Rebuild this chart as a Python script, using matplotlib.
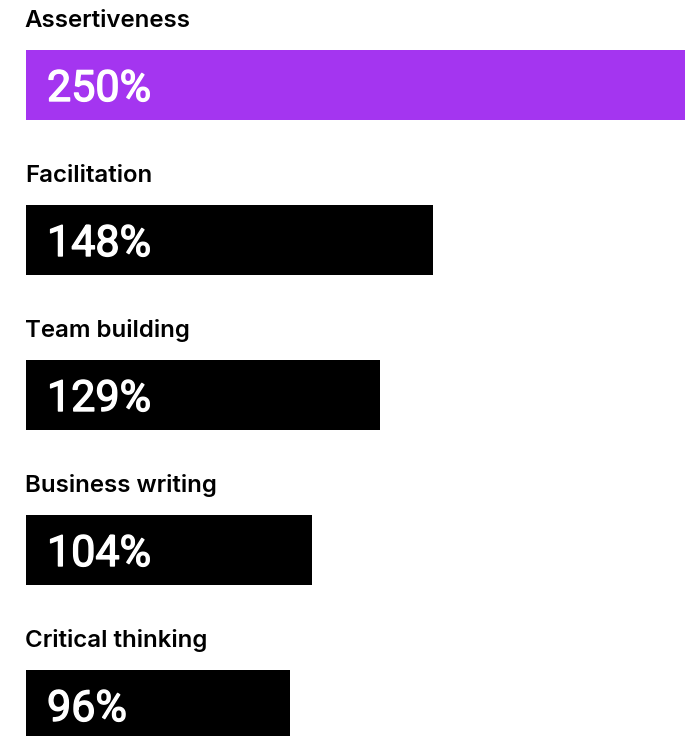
import matplotlib.pyplot as plt
import matplotlib.patheffects as pe

skills = ['Assertiveness', 'Facilitation', 'Team building', 'Business writing', 'Critical thinking']
growth = [250, 148, 129, 104, 96]
highlight = 'Assertiveness'

purple = '#a435f0'

fig = plt.figure(figsize=(6.85, 7.36), dpi=100)
# axes spans past the right edge so the top bar gets clipped like the original
ax = fig.add_axes([26 / 685, 0, 687 / 685, 1])
ax.set_xlim(0, 250)
ax.set_ylim(736 / 155 - 85 / 155, -85 / 155)
ax.axis('off')

colors = [purple if s == highlight else 'black' for s in skills]
ys = list(range(len(skills)))
ax.barh(ys, growth, height=70 / 155, color=colors, align='center')

# regular weight + a thin stroke to get something close to a medium weight
medium = [pe.withStroke(linewidth=1.0, foreground='white')]

for y, s, v in zip(ys, skills, growth):
    ax.text(-0.4, y - 58 / 155, s, fontsize=17.3, fontfamily='Inter', fontweight='semibold',
            color='black', ha='left', va='baseline')
    ax.annotate(f'{v}%', xy=(0, y), xytext=(21 * 0.72, -16 * 0.72), textcoords='offset points',
                fontsize=31, fontfamily='Roboto', color='white',
                ha='left', va='baseline', path_effects=medium)

fig.savefig('out.png', dpi=100)
